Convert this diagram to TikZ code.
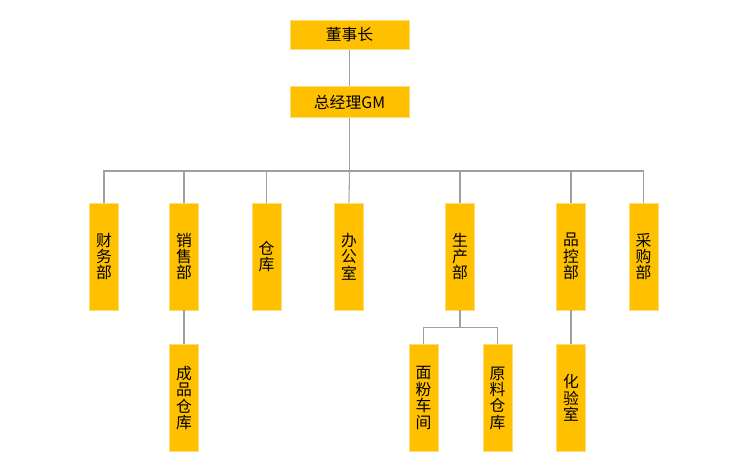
\documentclass[tikz,border=0pt]{standalone}
\usepackage{fontspec}
\setmainfont{Noto Sans CJK SC}
\usepackage{tikz}
\usetikzlibrary{positioning}
\definecolor{boxgold}{RGB}{255,192,0}
\definecolor{boxedge}{RGB}{255,220,120}
\definecolor{linkgrey}{RGB}{160,160,160}
\tikzset{
    headbox/.style={
        draw=boxedge,
        line width=0.4pt,
        fill=boxgold,
        align=center,
        inner sep=0pt,
        font=\fontsize{9}{10}\selectfont,
        minimum width=2.38cm,
        minimum height=0.58cm
    },
    deptbox/.style={
        draw=boxedge,
        line width=0.4pt,
        fill=boxgold,
        align=center,
        inner sep=0pt,
        font=\fontsize{9}{9.3}\selectfont,
        minimum width=0.58cm,
        minimum height=2.14cm
    },
    link/.style={draw=linkgrey, line width=0.6pt}
}
\begin{document}
\begin{tikzpicture}[x=0.02cm, y=-0.02cm]

\useasboundingbox (0,0) rectangle (750,474);

% TOP
\node[headbox] (chair) at (349.5,35) {董事长};
\node[headbox, minimum height=0.62cm] (gm) at (349.5,102) {总经理GM};

\draw[link] (chair) -- (gm);

% DEPARTMENTS
\coordinate (bus) at (349.5,171);

\node[deptbox] (finance) at (104,256.5) {财\\务\\部};
\node[deptbox] (sales) at (184,256.5) {销\\售\\部};
\node[deptbox] (store) at (266.5,256.5) {仓\\库};
\node[deptbox] (office) at (349,256.5) {办\\公\\室};
\node[deptbox] (prod) at (460,256.5) {生\\产\\部};
\node[deptbox] (qc) at (571,256.5) {品\\控\\部};
\node[deptbox] (buy) at (643.5,256.5) {采\\购\\部};

\draw[link] (gm) -- (bus);
\draw[link] (bus) -| (finance.north);
\draw[link] (bus) -| (sales.north);
\draw[link] (bus) -| (store.north);
\draw[link] (bus) -- (office.north);
\draw[link] (bus) -| (prod.north);
\draw[link] (bus) -| (qc.north);
\draw[link] (bus) -| (buy.north);

% SUB UNITS
\node[deptbox] (goods) at (184,398) {成\\品\\仓\\库};
\node[deptbox] (flour) at (423.5,398) {面\\粉\\车\\间};
\node[deptbox] (raw) at (497.5,398) {原\\料\\仓\\库};
\node[deptbox] (lab) at (571,398) {化\\验\\室};

\coordinate (prodbus) at (460,327.5);

\draw[link] (sales) -- (goods);
\draw[link] (prod) -- (prodbus);
\draw[link] (prodbus) -| (flour.north);
\draw[link] (prodbus) -| (raw.north);
\draw[link] (qc) -- (lab);

\end{tikzpicture}
\end{document}
